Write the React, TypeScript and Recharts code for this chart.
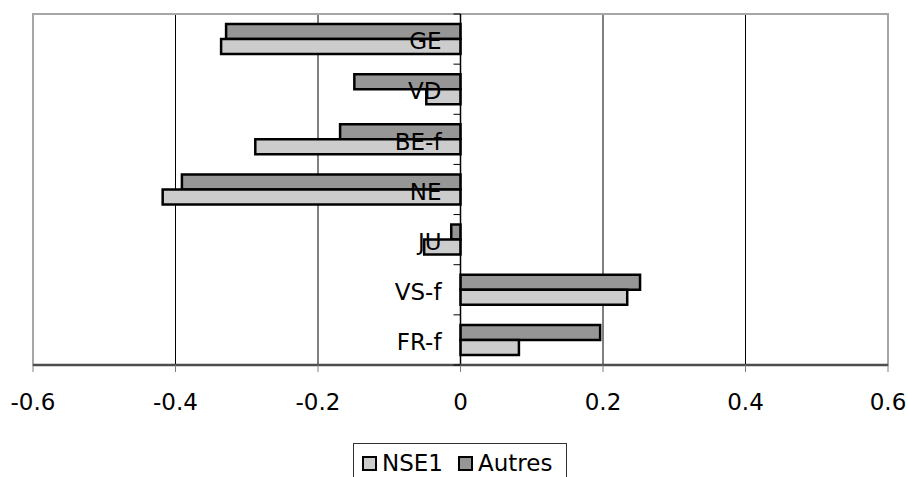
import { Bar, BarChart, CartesianGrid, Legend, ReferenceArea, ReferenceLine, XAxis, YAxis } from 'recharts';

const regions = ['GE', 'VD', 'BE-f', 'NE', 'JU', 'VS-f', 'FR-f'];
const nse1Values = [-0.336, -0.048, -0.288, -0.418, -0.051, 0.234, 0.082];
const autresValues = [-0.329, -0.149, -0.169, -0.391, -0.013, 0.252, 0.196];
const xTicks = [-0.6, -0.4, -0.2, 0, 0.2, 0.4, 0.6];
const gridValues = [-0.4, -0.2, 0.2, 0.4];

const data = regions.map((name, i) => ({ name, NSE1: nse1Values[i], Autres: autresValues[i] }));

const WIDTH = 908;
const HEIGHT = 477;
const MARGIN = { top: 14, right: 20, bottom: 16, left: 0 };
const Y_AXIS_WIDTH = 33;
const X_AXIS_HEIGHT = 60;
const LEGEND_HEIGHT = 36;
const X_MIN = -0.6;
const X_MAX = 0.6;

const PLOT_LEFT = MARGIN.left + Y_AXIS_WIDTH;
const PLOT_W = WIDTH - MARGIN.right - PLOT_LEFT;
const PLOT_H = HEIGHT - MARGIN.top - MARGIN.bottom - X_AXIS_HEIGHT - LEGEND_HEIGHT;
const BAND = PLOT_H / regions.length;
const ZERO_X = PLOT_LEFT + ((0 - X_MIN) / (X_MAX - X_MIN)) * PLOT_W;

const FONT = '"DejaVu Sans", Verdana, sans-serif';

const Label = ({ x, y, anchor, children }: { x: number; y: number; anchor: 'start' | 'middle' | 'end'; children: string }) => (
  <text x={x} y={y} dy="0.36em" textAnchor={anchor} fontFamily={FONT} fontSize={23} fill="#000">
    {children}
  </text>
);

const XTick = ({ x, y, payload }: any) => <Label x={x} y={y + 28} anchor="middle">{String(payload.value)}</Label>;

// region names sit just left of the zero line, with small ticks between bands
const RegionTick = ({ y, payload, index }: any) => (
  <g>
    <line x1={ZERO_X - 7} x2={ZERO_X} y1={y - BAND / 2} y2={y - BAND / 2} stroke="#000" />
    {index === regions.length - 1 && (
      <line x1={ZERO_X - 7} x2={ZERO_X} y1={y + BAND / 2} y2={y + BAND / 2} stroke="#000" />
    )}
    <Label x={ZERO_X - 19} y={y + 2} anchor="end">{payload.value}</Label>
  </g>
);

const LegendBox = ({ payload }: any) => {
  const items = [...(payload ?? [])].reverse();
  const offsets = [9, 105];
  return (
    <svg width={215} height={LEGEND_HEIGHT} style={{ display: 'block' }}>
      <rect x={0.5} y={0.5} width={213} height={LEGEND_HEIGHT + 10} fill="#fff" stroke="#333" />
      {items.map((item: any, i: number) => (
        <g key={item.value}>
          <rect x={offsets[i] + 1} y={14} width={13} height={13} fill={item.color} stroke="#000" strokeWidth={2} />
          <Label x={offsets[i] + 20} y={20} anchor="start">{item.value}</Label>
        </g>
      ))}
    </svg>
  );
};

export default function App() {
  return (
    <div style={{ position: 'absolute', left: 0, top: 0, background: '#fff' }}>
      <BarChart
        width={WIDTH}
        height={HEIGHT}
        data={data}
        layout="vertical"
        margin={MARGIN}
        barCategoryGap="20%"
        barGap={0}
      >
        <CartesianGrid horizontal={false} verticalValues={gridValues} stroke="#000" strokeWidth={1} />
        <ReferenceArea x1={X_MIN} x2={X_MAX} fill="none" stroke="#a6a6a6" strokeWidth={2} />
        <XAxis
          type="number"
          domain={[X_MIN, X_MAX]}
          ticks={xTicks}
          height={X_AXIS_HEIGHT}
          axisLine={{ stroke: '#4d4d4d', strokeWidth: 2.5 }}
          tickLine={{ stroke: '#808080' }}
          tickSize={7}
          tick={<XTick />}
          interval={0}
        />
        <Bar dataKey="Autres" fill="#969696" stroke="#000" strokeWidth={2.5} isAnimationActive={false} />
        <Bar dataKey="NSE1" fill="#cccccc" stroke="#000" strokeWidth={2.5} isAnimationActive={false} />
        <ReferenceLine x={0} stroke="#000" strokeWidth={1.5} />
        <YAxis
          type="category"
          dataKey="name"
          width={Y_AXIS_WIDTH}
          axisLine={false}
          tickLine={false}
          tick={<RegionTick />}
          interval={0}
        />
        <Legend
          content={<LegendBox />}
          verticalAlign="bottom"
          wrapperStyle={{ position: 'absolute', left: 353, top: 443, width: 215, height: LEGEND_HEIGHT }}
        />
      </BarChart>
    </div>
  );
}
